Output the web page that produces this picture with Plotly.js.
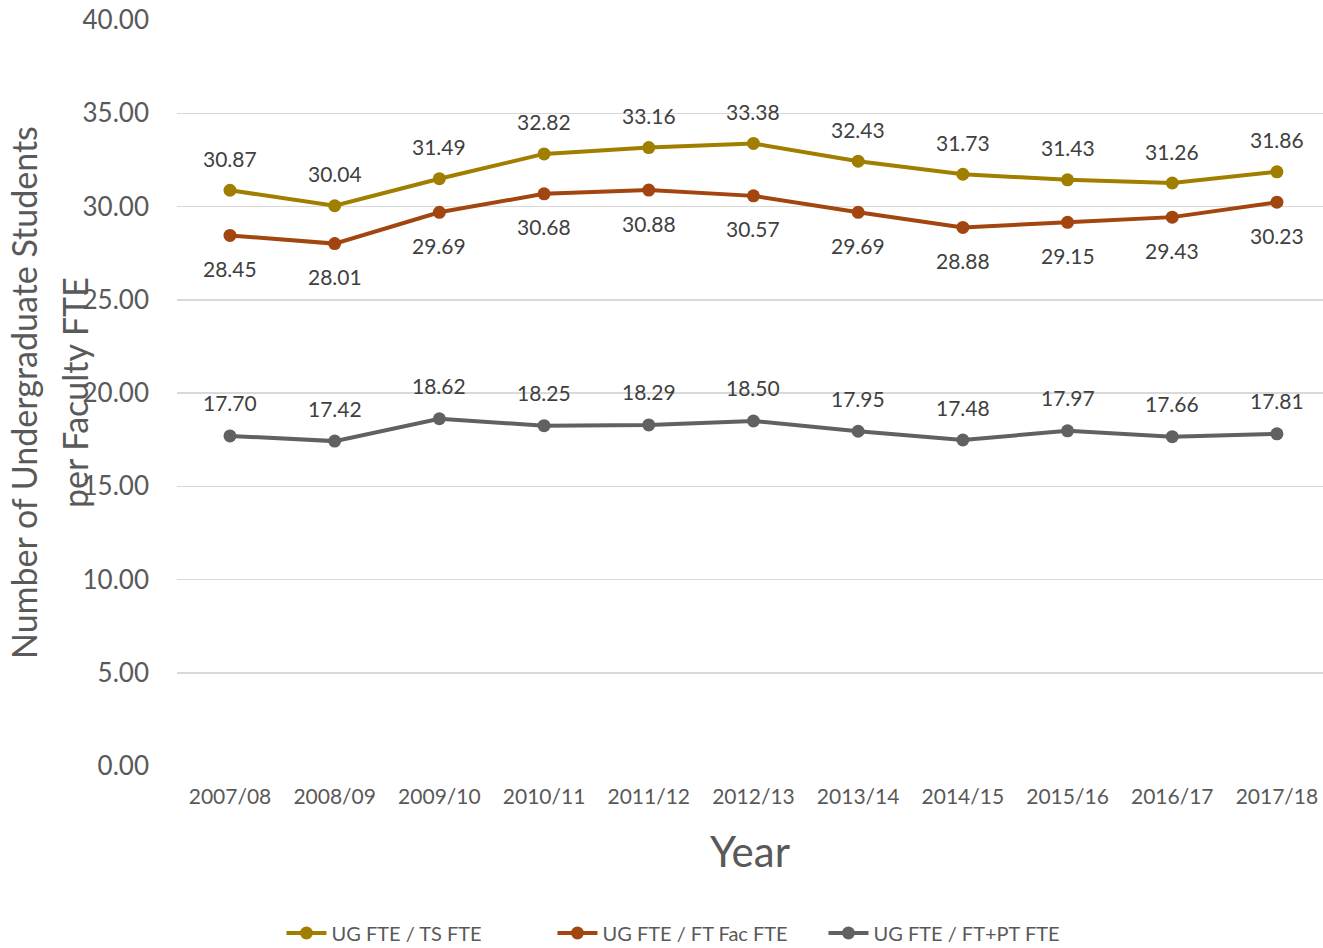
<!DOCTYPE html>
<html>
<head>
<meta charset="utf-8">
<script src="https://cdn.plot.ly/plotly-3.0.1.min.js"></script>
<style>html,body{margin:0;padding:0;background:#fff;}#chart{width:1323px;height:948px;}</style>
</head>
<body>
<div id="chart"></div>
<script>
var years = ["2007/08","2008/09","2009/10","2010/11","2011/12","2012/13","2013/14","2014/15","2015/16","2016/17","2017/18"];
var ugTs = [30.87,30.04,31.49,32.82,33.16,33.38,32.43,31.73,31.43,31.26,31.86];
var ugFtFac = [28.45,28.01,29.69,30.68,30.88,30.57,29.69,28.88,29.15,29.43,30.23];
var ugFtPt = [17.70,17.42,18.62,18.25,18.29,18.50,17.95,17.48,17.97,17.66,17.81];
var seriesNames = ["UG FTE / TS FTE","UG FTE / FT Fac FTE","UG FTE / FT+PT FTE"];
var yTicks = [0,5,10,15,20,25,30,35,40];
var yTitleLines = ["Number of Undergraduate Students","per Faculty FTE"];

var colors = ["#A07E00","#A2450F","#616161"];
var FONT = "Lato, 'Open Sans', sans-serif";
var series = [ugTs, ugFtFac, ugFtPt];
var shifts = [32, -33, 33];

var traces = series.map(function(s,i){
  return {
    x: years, y: s, type: "scatter", mode: "lines+markers", name: seriesNames[i],
    line: {color: colors[i], width: 4},
    marker: {color: colors[i], size: 13}
  };
});

var annotations = [];
series.forEach(function(s,i){
  s.forEach(function(v,j){
    annotations.push({x: years[j], y: v, xref: "x", yref: "y", text: v.toFixed(2),
      showarrow: false, yshift: shifts[i], font: {family: FONT, size: 21, color: "#404040"}});
  });
});
var titleX = [23, 74];
yTitleLines.forEach(function(t,i){
  annotations.push({xref: "paper", yref: "paper", x: (titleX[i]-177)/1146, y: 0.5, xanchor: "center", yanchor: "middle",
    textangle: -90, showarrow: false, text: t,
    font: {family: FONT, size: 34, color: "#595959"}});
});

var layout = {
  width: 1323, height: 948,
  margin: {l: 177, r: 0, t: 20, b: 182},
  paper_bgcolor: "#fff", plot_bgcolor: "#fff",
  showlegend: true,
  legend: {orientation: "h", x: 0.52, xanchor: "center", xref: "container", yref: "container", y: 0.0158, yanchor: "middle",
    font: {family: FONT, size: 20, color: "#595959"}, itemwidth: 40, traceorder: "normal",
    entrywidth: 216, entrywidthmode: "pixels"},
  xaxis: {type: "category", range: [-0.506, 10.44], showgrid: false, zeroline: false, showline: false,
    tickfont: {family: FONT, size: 21, color: "#595959"}, ticks: "", ticklabelstandoff: 16,
    title: {text: "Year", font: {family: FONT, size: 42, color: "#595959"}, standoff: 30}},
  yaxis: {range: [0, 40], tickvals: yTicks, ticktext: yTicks.map(function(v){return v.toFixed(2);}),
    showgrid: true, gridcolor: "#D9D9D9", gridwidth: 1.5, zeroline: false, showline: false,
    tickfont: {family: FONT, size: 26, color: "#595959"}, ticks: "", ticklabelstandoff: 27},
  annotations: annotations
};

Plotly.newPlot("chart", traces, layout, {displayModeBar: false, staticPlot: true});
</script>
</body>
</html>
